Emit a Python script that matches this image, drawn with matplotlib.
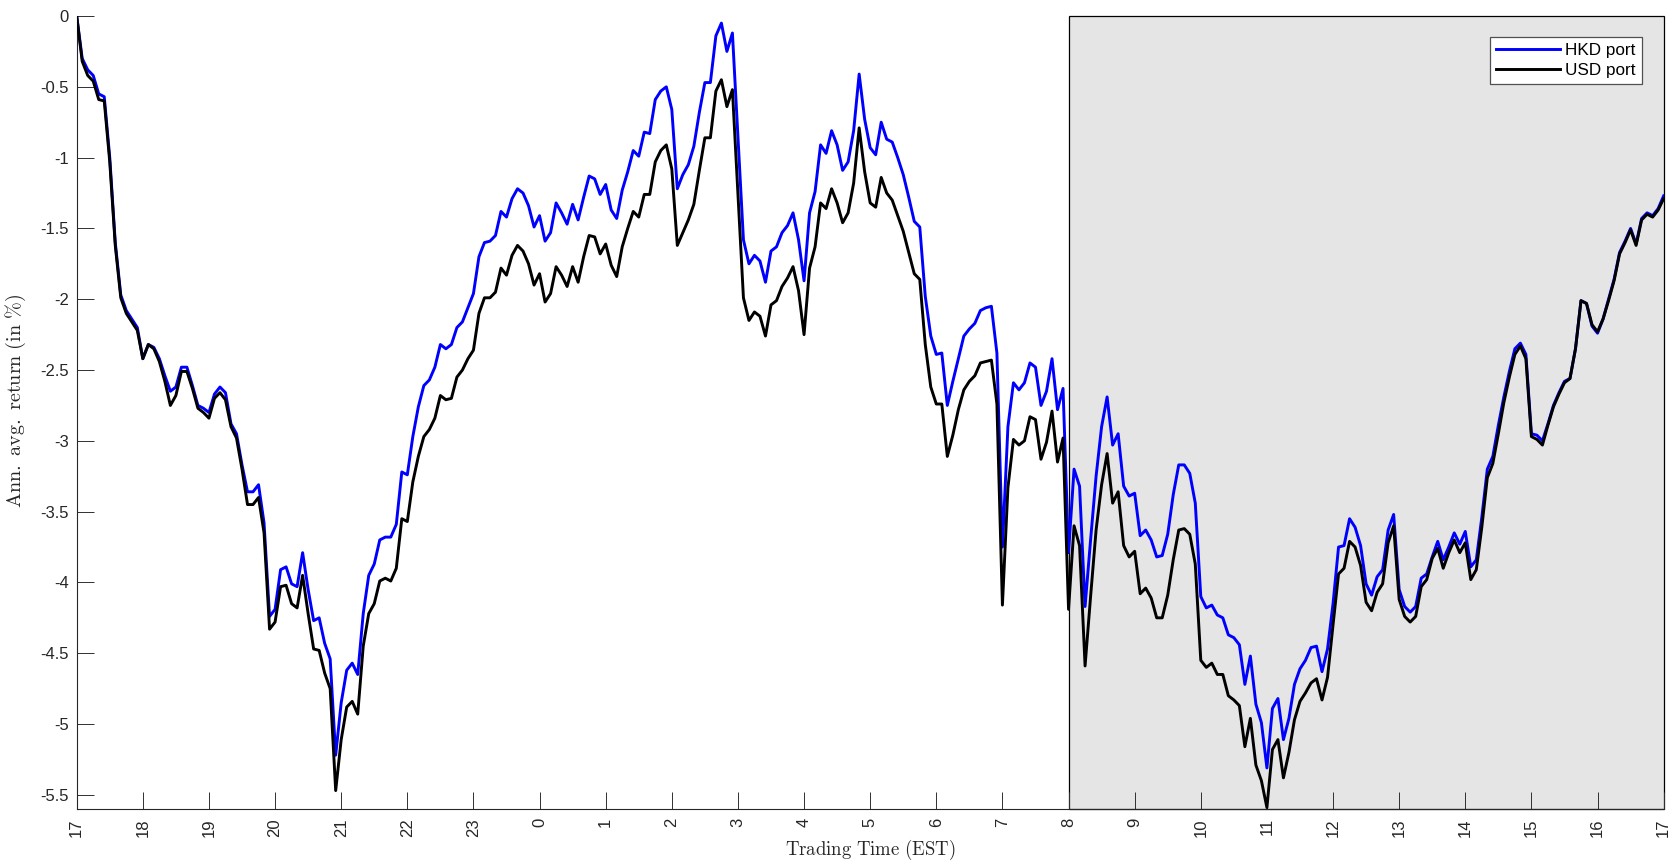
import matplotlib
matplotlib.use("Agg")
import matplotlib.pyplot as plt
import numpy as np
from matplotlib.patches import Rectangle

plt.rcParams["font.family"] = ["Liberation Sans", "DejaVu Sans"]
plt.rcParams["mathtext.fontset"] = "cm"
plt.rcParams["axes.unicode_minus"] = False

# 5-minute bars over one trading day, 17:00 EST to 17:00 EST
minutes = np.arange(0, 24 * 60 + 1, 5)
hours = minutes / 60.0

hour_labels = ["17", "18", "19", "20", "21", "22", "23", "0", "1", "2", "3",
               "4", "5", "6", "7", "8", "9", "10", "11", "12", "13", "14",
               "15", "16", "17"]

# annualised average return (%), one row per hour (12 bars each)
hkd_port = [
    0.00, -0.30, -0.38, -0.42, -0.55, -0.57, -1.00, -1.60, -1.97, -2.08, -2.14, -2.20,
    -2.42, -2.32, -2.34, -2.42, -2.54, -2.65, -2.62, -2.48, -2.48, -2.61, -2.75, -2.77,
    -2.80, -2.67, -2.62, -2.66, -2.88, -2.95, -3.17, -3.36, -3.36, -3.31, -3.58, -4.24,
    -4.19, -3.91, -3.89, -4.01, -4.03, -3.79, -4.05, -4.27, -4.25, -4.43, -4.54, -5.22,
    -4.85, -4.62, -4.57, -4.65, -4.22, -3.95, -3.87, -3.70, -3.68, -3.68, -3.59, -3.22,
    -3.24, -2.97, -2.76, -2.61, -2.57, -2.48, -2.32, -2.35, -2.32, -2.20, -2.16, -2.06,
    -1.96, -1.70, -1.60, -1.59, -1.55, -1.38, -1.42, -1.29, -1.22, -1.25, -1.34, -1.49,
    -1.41, -1.59, -1.53, -1.32, -1.39, -1.47, -1.33, -1.44, -1.28, -1.13, -1.15, -1.26,
    -1.19, -1.37, -1.43, -1.23, -1.10, -0.95, -0.99, -0.82, -0.83, -0.59, -0.53, -0.50,
    -0.66, -1.22, -1.12, -1.05, -0.92, -0.68, -0.47, -0.47, -0.14, -0.05, -0.25, -0.12,
    -0.85, -1.58, -1.75, -1.69, -1.73, -1.88, -1.66, -1.63, -1.53, -1.48, -1.39, -1.58,
    -1.87, -1.39, -1.24, -0.91, -0.97, -0.81, -0.91, -1.09, -1.03, -0.81, -0.41, -0.73,
    -0.93, -0.98, -0.75, -0.87, -0.89, -1.00, -1.12, -1.28, -1.45, -1.49, -1.98, -2.26,
    -2.39, -2.38, -2.75, -2.58, -2.42, -2.26, -2.21, -2.17, -2.08, -2.06, -2.05, -2.38,
    -3.75, -2.90, -2.59, -2.64, -2.59, -2.45, -2.48, -2.75, -2.65, -2.42, -2.78, -2.63,
    -3.79, -3.20, -3.32, -4.17, -3.70, -3.25, -2.90, -2.69, -3.03, -2.95, -3.32, -3.39,
    -3.37, -3.67, -3.63, -3.70, -3.82, -3.81, -3.66, -3.38, -3.17, -3.17, -3.23, -3.44,
    -4.10, -4.18, -4.16, -4.23, -4.25, -4.37, -4.39, -4.44, -4.72, -4.52, -4.86, -4.99,
    -5.31, -4.89, -4.82, -5.11, -4.96, -4.72, -4.61, -4.55, -4.46, -4.45, -4.63, -4.47,
    -4.15, -3.75, -3.74, -3.55, -3.61, -3.74, -4.01, -4.09, -3.96, -3.91, -3.63, -3.52,
    -4.05, -4.17, -4.21, -4.17, -3.97, -3.94, -3.82, -3.71, -3.84, -3.75, -3.65, -3.73,
    -3.64, -3.89, -3.84, -3.54, -3.20, -3.11, -2.89, -2.69, -2.51, -2.35, -2.31, -2.39,
    -2.95, -2.96, -3.00, -2.88, -2.75, -2.66, -2.58, -2.56, -2.35, -2.01, -2.03, -2.19,
    -2.24, -2.14, -2.00, -1.86, -1.67, -1.59, -1.50, -1.61, -1.43, -1.39, -1.41, -1.36,
    -1.27,
]

usd_port = [
    0.00, -0.32, -0.42, -0.46, -0.59, -0.60, -1.03, -1.62, -1.99, -2.10, -2.16, -2.22,
    -2.42, -2.32, -2.35, -2.44, -2.58, -2.75, -2.68, -2.51, -2.51, -2.63, -2.77, -2.80,
    -2.84, -2.70, -2.66, -2.71, -2.90, -2.98, -3.20, -3.45, -3.45, -3.40, -3.65, -4.33,
    -4.28, -4.03, -4.02, -4.15, -4.18, -3.95, -4.22, -4.47, -4.48, -4.64, -4.75, -5.47,
    -5.11, -4.88, -4.84, -4.93, -4.45, -4.22, -4.15, -3.99, -3.97, -3.99, -3.90, -3.55,
    -3.57, -3.29, -3.11, -2.97, -2.92, -2.84, -2.68, -2.71, -2.70, -2.55, -2.50, -2.42,
    -2.36, -2.10, -1.99, -1.99, -1.95, -1.78, -1.83, -1.69, -1.62, -1.66, -1.75, -1.90,
    -1.82, -2.02, -1.96, -1.77, -1.83, -1.91, -1.77, -1.88, -1.70, -1.55, -1.56, -1.68,
    -1.61, -1.76, -1.84, -1.63, -1.50, -1.38, -1.42, -1.26, -1.26, -1.03, -0.95, -0.91,
    -1.08, -1.62, -1.53, -1.44, -1.33, -1.09, -0.86, -0.86, -0.53, -0.45, -0.64, -0.52,
    -1.26, -1.99, -2.15, -2.09, -2.12, -2.26, -2.04, -2.01, -1.91, -1.85, -1.77, -1.94,
    -2.25, -1.78, -1.63, -1.32, -1.36, -1.22, -1.32, -1.46, -1.39, -1.18, -0.79, -1.10,
    -1.32, -1.35, -1.14, -1.25, -1.30, -1.41, -1.52, -1.67, -1.82, -1.86, -2.32, -2.62,
    -2.74, -2.74, -3.11, -2.96, -2.78, -2.64, -2.58, -2.54, -2.45, -2.44, -2.43, -2.74,
    -4.16, -3.33, -2.99, -3.03, -3.00, -2.83, -2.85, -3.13, -3.01, -2.79, -3.15, -2.98,
    -4.19, -3.60, -3.74, -4.59, -4.10, -3.63, -3.31, -3.09, -3.44, -3.36, -3.74, -3.82,
    -3.78, -4.08, -4.04, -4.11, -4.25, -4.25, -4.09, -3.84, -3.63, -3.62, -3.66, -3.87,
    -4.55, -4.60, -4.57, -4.65, -4.65, -4.80, -4.83, -4.87, -5.16, -4.96, -5.29, -5.40,
    -5.59, -5.18, -5.11, -5.38, -5.20, -4.97, -4.84, -4.78, -4.71, -4.68, -4.83, -4.67,
    -4.30, -3.94, -3.90, -3.71, -3.75, -3.88, -4.14, -4.20, -4.07, -4.01, -3.72, -3.60,
    -4.12, -4.24, -4.28, -4.24, -4.03, -3.98, -3.83, -3.76, -3.90, -3.79, -3.70, -3.79,
    -3.72, -3.98, -3.91, -3.61, -3.26, -3.16, -2.95, -2.73, -2.55, -2.39, -2.33, -2.42,
    -2.97, -2.99, -3.03, -2.89, -2.76, -2.67, -2.59, -2.56, -2.35, -2.01, -2.03, -2.18,
    -2.23, -2.14, -2.01, -1.87, -1.68, -1.60, -1.51, -1.62, -1.44, -1.40, -1.42, -1.37,
    -1.29,
]

# US trading session (08:00 - 17:00) gets a grey background
session_start, session_end = 15, 24
y_min, y_max = -5.6, 0

fig = plt.figure(figsize=(16.71, 8.61), dpi=100)
ax = fig.add_axes([0.0459, 0.0604, 0.9497, 0.921])

ax.add_patch(Rectangle((session_start, y_min), session_end - session_start,
                       y_max - y_min, facecolor="#e5e5e5", edgecolor="black",
                       linewidth=0.9, zorder=0, clip_on=False))

ax.plot(hours, hkd_port, color="#0000ff", lw=2.1, label="HKD port", zorder=2)
ax.plot(hours, usd_port, color="black", lw=2.1, label="USD port", zorder=3)

ax.set_xlim(0, 24)
ax.set_ylim(y_min, y_max)
ax.set_xticks(range(25))
ax.set_xticklabels(hour_labels, rotation=90)
ax.set_yticks(np.arange(0, -5.51, -0.5))
ax.set_yticklabels(["0", "-0.5", "-1", "-1.5", "-2", "-2.5", "-3", "-3.5",
                    "-4", "-4.5", "-5", "-5.5"])

ax.spines["top"].set_visible(False)
ax.spines["right"].set_visible(False)
for side in ("left", "bottom"):
    ax.spines[side].set_color("#262626")
    ax.spines[side].set_linewidth(0.8)
ax.tick_params(direction="in", length=12, width=0.7, color="#303030",
               labelsize=12, labelcolor="#262626")
ax.tick_params(axis="y", pad=5.5)
ax.tick_params(axis="x", pad=6.5)

ax.set_xlabel(r"$\mathrm{Trading\ Time\ (EST)}$", fontsize=13.5, color="#262626",
              labelpad=1)
ax.set_ylabel(r"$\mathrm{Ann.\ avg.\ return\ (in\ \%)}$", fontsize=14.5,
              color="#262626")
ax.yaxis.set_label_coords(-0.031, 0.515)

leg = ax.legend(loc="upper right", bbox_to_anchor=(0.9863, 0.9735), fontsize=12.3,
                handlelength=3.76, handletextpad=0.3, labelspacing=0.27,
                borderpad=0.35, fancybox=False, framealpha=1, borderaxespad=0)
leg.get_frame().set_edgecolor("#505050")
leg.get_frame().set_linewidth(0.9)

fig.savefig("out.png", dpi=100)
